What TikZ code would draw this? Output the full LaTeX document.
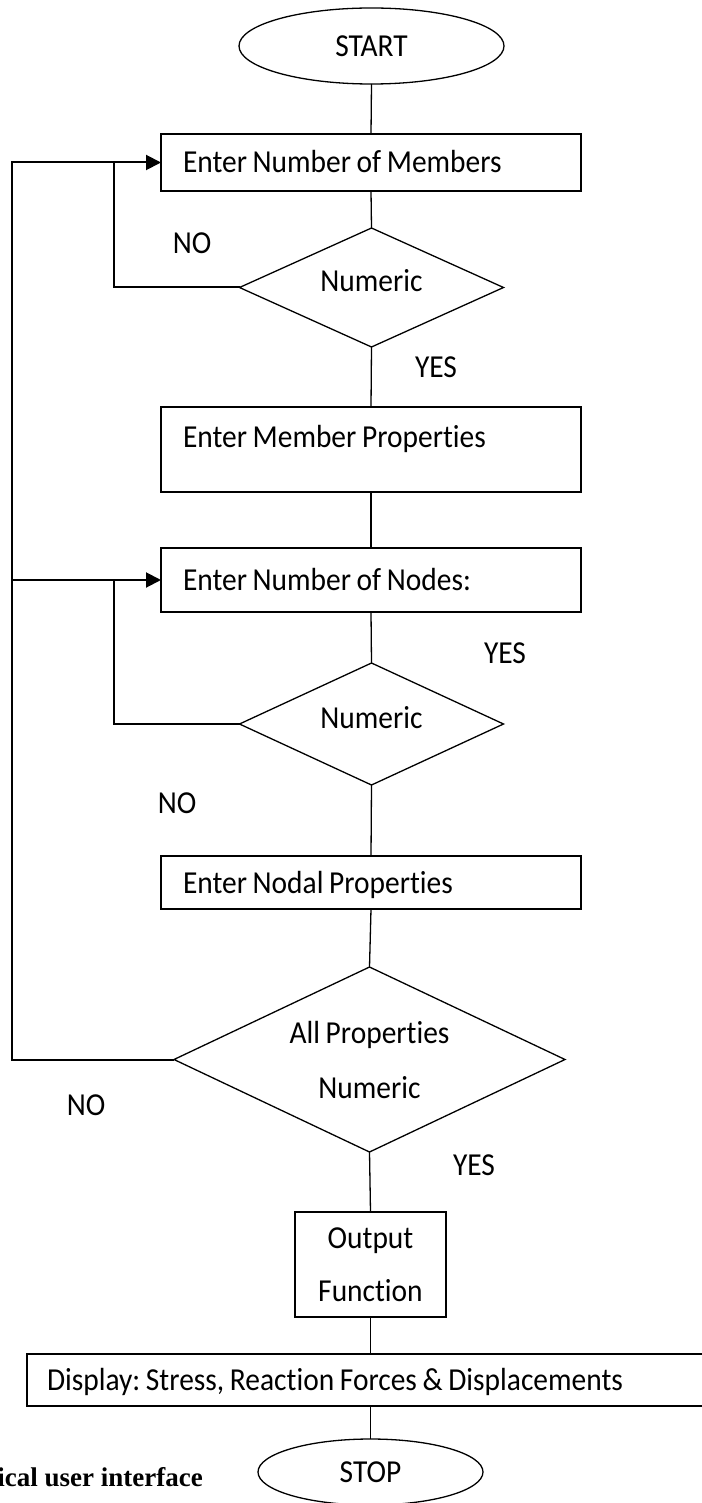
\documentclass[tikz,border=0pt]{standalone}
\usepackage{fontspec}
\setmainfont{Carlito}[FakeStretch=0.92, WordSpace=0.85, Ligatures=NoCommon]
\newfontfamily\captionserif{Liberation Serif}
\usetikzlibrary{shapes.geometric,arrows.meta,calc}

\begin{document}
\frenchspacing
\begin{tikzpicture}[x=1pt,y=-1pt,
  every node/.style={font=\fontsize{32}{53}\selectfont},
  terminal/.style={draw, ellipse, line width=1.3pt, inner sep=0pt, outer sep=0pt},
  procbox/.style={draw, rectangle, line width=1.6pt, minimum width=420pt,
    inner xsep=22pt, inner ysep=0pt,
    text height=21pt, text depth=0pt, outer sep=0pt},
  outbox/.style={draw, rectangle, line width=1.6pt, align=center,
    inner sep=0pt, outer sep=0pt},
  decision/.style={draw, diamond, aspect=2.2, line width=1.3pt,
    inner sep=0pt, outer sep=0pt, align=center},
  flow/.style={line width=1.3pt},
  loopline/.style={line width=2pt},
  into/.style={-{Triangle[length=15pt,width=15pt]}},
  tag/.style={inner sep=0pt}
]
\useasboundingbox (0,0) rectangle (701,1503);

% main column
\node[terminal, minimum width=265pt, minimum height=76pt] (start) at (371.5,46) {START};
\node[procbox, minimum height=57pt] (members) at (371,162.5) {\makebox[376pt][l]{Enter Number of Members}};
\node[decision, minimum width=264pt, minimum height=119pt, text depth=14pt] (num1) at (371.5,287.5) {Numeric};
\node[procbox, minimum height=85pt, text height=20pt, text depth=25pt] (memprops) at (371,449.5) {\makebox[376pt][l]{Enter Member Properties}};
\node[procbox, minimum height=64pt] (nodecount) at (371,580) {\makebox[376pt][l]{Enter Number of Nodes:}};
\node[decision, minimum width=264pt, minimum height=122pt, text depth=14pt] (num2) at (371.5,724) {Numeric};
\node[procbox, minimum height=53pt] (nodalprops) at (371,882.5) {\makebox[376pt][l]{Enter Nodal Properties}};
\node[decision, minimum width=391pt, minimum height=185pt] (allprops) at (369.5,1059.5) {All Properties\\[2pt]Numeric};
\node[outbox, minimum width=151pt, minimum height=105pt] (output) at (370.5,1264.5) {Output\\Function};
\node[procbox, minimum width=700pt, inner xsep=20pt, minimum height=52pt] (display) at (377,1380) {\makebox[660pt][l]{Display: Stress, Reaction Forces \& Displacements}};
\node[terminal, minimum width=225pt, minimum height=66pt] (stop) at (370.5,1472) {STOP};

% branch labels
\node[tag] (no1) at (192,243) {NO};
\node[tag] (yes1) at (436,367) {YES};
\node[tag] (yes2) at (505,653) {YES};
\node[tag] (no2) at (177,803) {NO};
\node[tag] (no3) at (86,1105) {NO};
\node[tag] (yes3) at (474,1165) {YES};

% caption fragment
\node[anchor=base east, inner sep=0pt, font=\captionserif\bfseries\fontsize{27}{30}\selectfont] (caption) at (203,1486) {ical user interface};

% straight-through connectors
\draw[flow] (start.south) -- (members.north);
\draw[flow] (members.south) -- (num1.north);
\draw[flow] (num1.south) -- (memprops.north);
\draw[flow] (memprops.south) -- (nodecount.north);
\draw[flow] (nodecount.south) -- (num2.north);
\draw[flow] (num2.south) -- (nodalprops.north);
\draw[flow] (nodalprops.south) -- (allprops.north);
\draw[flow] (allprops.south) -- (output.north);
\draw[flow] (output.south) -- (output.south |- display.north);
\draw[flow] (display.south -| stop.north) -- (stop.north);

% return loops
\coordinate (rail) at (12,600);
\coordinate (j1) at (114,162.5);
\coordinate (j2) at (114,580);
\draw[loopline, into] (allprops.west) -| (rail) |- (members.west);
\draw[loopline, into] (rail |- nodecount.west) -- (nodecount.west);
\draw[loopline] (num1.west) -| (j1);
\draw[loopline] (num2.west) -| (j2);
\end{tikzpicture}
\end{document}
